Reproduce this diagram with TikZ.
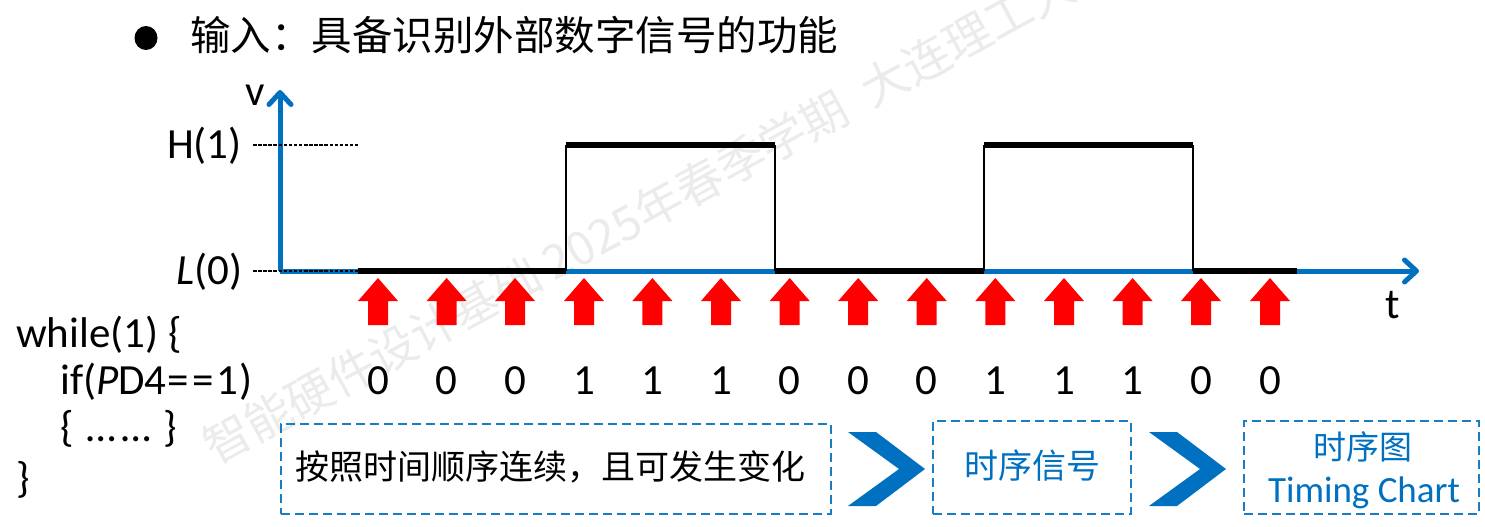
\documentclass[tikz,border=0pt]{standalone}
\usepackage{fontspec}
\setmainfont{Carlito}
\newfontfamily\cjk{Noto Sans CJK SC}
\usetikzlibrary{arrows.meta}
\definecolor{axisblue}{HTML}{0070C0}
\definecolor{dashblue}{HTML}{1A7DC4}
\definecolor{wmgray}{HTML}{EBEBEB}
\tikzset{
  axisline/.style={draw=axisblue,line width=5pt,-{Straight Barb[round,length=12pt,width=22pt,line width=5pt]}},
  sigbold/.style={draw=black,line width=5.5pt},
  sigthin/.style={draw=black,line width=1.6pt},
  guide/.style={draw=black,line width=1.3pt,dash pattern=on 3.5pt off 1.6pt},
  dbox/.style={draw=dashblue,line width=2.4pt,dash pattern=on 9pt off 5pt,inner sep=0pt},
  lbl/.style={inner sep=0pt,font=\fontsize{43}{43}\selectfont,text=black},
  bit/.style={inner sep=0pt,font=\fontsize{43}{43}\selectfont,anchor=base},
  chev/.style={fill=axisblue,draw=none},
}
\begin{document}
\begin{tikzpicture}[x=1pt,y=-1pt]
\useasboundingbox (0,0) rectangle (1485,527);
% watermark
\node[rotate=28.5,anchor=base west,inner sep=0pt,text=wmgray,font=\fontsize{47}{47}\selectfont\cjk] (wm) at (215,466)
  {智能硬件设计基础 2025年春季学期\hspace{12pt} 大连理工大学};
% title
\fill[black] (146,38) ellipse (11.5 and 12);
\node[anchor=base west,inner sep=0pt,font=\fontsize{40.5}{40}\selectfont\cjk] (title) at (190,51)
  {输入：具备识别外部数字信号的功能};
% axes
\coordinate (o) at (280,271);
\coordinate (ytop) at (280,90);
\coordinate (xend) at (1419,271);
\draw[axisline] (o) -- (ytop);
\draw[axisline] (o) -- (xend);
% signal
\coordinate (a0) at (358,271);
\coordinate (a1) at (566,271);
\coordinate (a2) at (775,271);
\coordinate (a3) at (984,271);
\coordinate (a4) at (1193,271);
\coordinate (a5) at (1297,271);
\coordinate (b1) at (566,145);
\coordinate (b2) at (775,145);
\coordinate (b3) at (984,145);
\coordinate (b4) at (1193,145);
\draw[sigthin] (a1) -- (b1);
\draw[sigthin] (a2) -- (b2);
\draw[sigthin] (a3) -- (b3);
\draw[sigthin] (a4) -- (b4);
\draw[sigbold] (b1) -- (b2);
\draw[sigbold] (b3) -- (b4);
\draw[sigbold] (a0) -- (a1);
\draw[sigbold] (a2) -- (a3);
\draw[sigbold] (a4) -- (a5);
% guides
\coordinate (gh0) at (253,145);
\coordinate (gh1) at (358,145);
\coordinate (gl0) at (253,271);
\draw[guide] (gh0) -- (gh1);
\draw[guide] (gl0) -- (a0);
% axis labels
\node[lbl,anchor=base] (v) at (255,105) {v};
\node[lbl,anchor=base] (t) at (1393,318) {t};
\node[lbl,anchor=base east] (h) at (242,158) {H(1)};
\node[lbl,anchor=base east] (l) at (243,284) {\textit{L}(0)};
% sampling arrows and bits
\foreach \xx/\bv [count=\i] in {378/0,446.6/0,515/0,584/1,652.4/1,721/1,789.7/0,858.2/0,926.7/0,995.3/1,1064/1,1132.6/1,1201/0,1270/0}{
  \fill[red] (\xx,278) -- (\xx+20,301) -- (\xx+10,301) -- (\xx+10,325) -- (\xx-10,325) -- (\xx-10,301) -- (\xx-20,301) -- cycle;
  \node[bit] (bit\i) at (\xx,394) {\bv};
}
% code
\node[lbl,anchor=base west] (c1) at (16,347) {while(1) \{};
\node[lbl,anchor=base west] (c2) at (60,394) {if(\textit{P}D4\hspace{1pt}=\hspace{3pt}=\hspace{3pt}1\hspace{1pt})};
\node[lbl,anchor=base west] (c3) at (60,441) {\{ \hspace{3pt}…\hspace{5pt}…\hspace{3pt} \}};
\node[lbl,anchor=base west] (c4) at (16,492) {\}};
% bottom boxes
\node[dbox,minimum width=550pt,minimum height=90pt,anchor=north west] (box1) at (280,423) {};
\node[anchor=base west,inner sep=0pt,font=\fontsize{34}{34}\selectfont\cjk] (t1) at (295,479) {按照时间顺序连续，且可发生变化};
\node[dbox,minimum width=198pt,minimum height=93pt,anchor=north west] (box2) at (932,420) {};
\node[inner sep=0pt,text=axisblue,font=\fontsize{34}{34}\selectfont\cjk] (t2) at (1032,466) {时序信号};
\node[dbox,minimum width=235pt,minimum height=93pt,anchor=north west] (box3) at (1243,420) {};
\node[inner sep=0pt,text=axisblue,font=\fontsize{33}{33}\selectfont\cjk] (t3) at (1363,447) {时序图};
\node[inner sep=0pt,text=axisblue,font=\fontsize{37}{37}\selectfont,anchor=base] (t4) at (1364,502) {Timing Chart};
% chevrons
\fill[chev] (848,432) -- (876,432) -- (925,469) -- (876,506) -- (848,506) -- (899,469) -- cycle;
\fill[chev] (1149,432) -- (1177,432) -- (1226,469) -- (1177,506) -- (1149,506) -- (1200,469) -- cycle;
\end{tikzpicture}
\end{document}
